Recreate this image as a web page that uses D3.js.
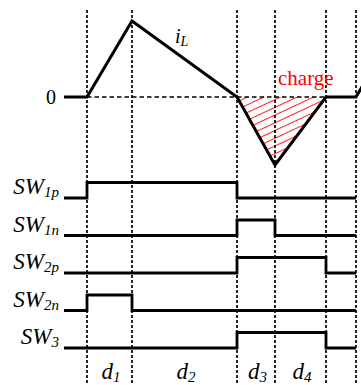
<!DOCTYPE html>
<html>
<head>
<meta charset="utf-8">
<script src="https://cdn.jsdelivr.net/npm/d3@7"></script>
</head>
<body style="margin:0">
<script>
// Phase boundaries on the time axis (start, end of d1, d2, d3, d4, idle)
const phaseEdges = [-0.23, 0, 0.45, 1.5, 1.88, 2.39, 2.69];
const phaseNames = ["d1", "d2", "d3", "d4"];

// Inductor current waveform, (time, current) in normalised units
const iLTime  = [-0.23, 0, 0.45, 1.5, 1.88, 2.39, 2.69, 3.14];
const iLValue = [0, 0, 1, 0, -0.895, 0, 0, 1];

// Switch states per phase: [idle, d1, d2, d3, d4, idle]
const switchNames = ["SW", "SW", "SW", "SW", "SW"];
const switchSubs  = ["1p", "1n", "2p", "2n", "3"];
const switchStates = [
  [0, 1, 1, 0, 0, 0],
  [0, 0, 0, 1, 0, 0],
  [0, 0, 0, 1, 1, 0],
  [0, 1, 0, 0, 0, 0],
  [0, 0, 0, 1, 1, 0]
];

const W = 361, H = 385;
const svg = d3.select("body").append("svg")
  .attr("width", W).attr("height", H)
  .style("display", "block");
svg.append("rect").attr("width", W).attr("height", H).attr("fill", "#fff");

const x = d3.scaleLinear().domain([-0.23, 2.69]).range([64, 356]);
const yI = d3.scaleLinear().domain([0, 1]).range([97, 21]);
const rowLow = d3.scaleLinear().domain([0, 4]).range([198, 348]);
const swAmp = 15.5;

// Serif text helper
const label = (sel) => sel.append("text").attr("font-family", "Liberation Serif");

// Hatch pattern for the charge area
const defs = svg.append("defs");
const pat = defs.append("pattern")
  .attr("id", "hatch")
  .attr("patternUnits", "userSpaceOnUse")
  .attr("width", 7).attr("height", 7)
  .attr("patternTransform", "rotate(-25)");
pat.append("line")
  .attr("x1", 0).attr("x2", 7).attr("y1", 3.5).attr("y2", 3.5)
  .attr("stroke", "#ff2020").attr("stroke-width", 1);

// Negative-current region (d3 + d4)
const negIdx = [3, 4, 5];
const area = d3.area()
  .x(i => x(iLTime[i]))
  .y0(yI(0))
  .y1(i => yI(iLValue[i]));
svg.append("path")
  .attr("d", area(negIdx))
  .attr("fill", "url(#hatch)");

// Vertical phase markers
svg.append("g").selectAll("line")
  .data(phaseEdges.slice(1))
  .join("line")
  .attr("x1", d => x(d)).attr("x2", d => x(d))
  .attr("y1", 10).attr("y2", H)
  .attr("stroke", "#000").attr("stroke-width", 1.7)
  .attr("stroke-dasharray", "3,2");

// Zero reference (dashed) across the switching interval
svg.append("line")
  .attr("x1", x(0)).attr("x2", x(2.39))
  .attr("y1", yI(0)).attr("y2", yI(0))
  .attr("stroke", "#000").attr("stroke-width", 1.6)
  .attr("stroke-dasharray", "4.5,3");

// Inductor current
const iLine = d3.line()
  .x(i => x(iLTime[i]))
  .y(i => yI(iLValue[i]));
svg.append("path")
  .attr("d", iLine(d3.range(iLTime.length)))
  .attr("fill", "none").attr("stroke", "#000")
  .attr("stroke-width", 3).attr("stroke-linejoin", "miter");

// Labels for the current plot
label(svg).attr("x", 51).attr("y", 104)
  .attr("text-anchor", "middle").attr("font-size", 20).text("0");

const iLab = label(svg).attr("x", 175).attr("y", 43)
  .attr("font-size", 20).attr("font-style", "italic");
iLab.append("tspan").text("i");
iLab.append("tspan").attr("font-size", 14).attr("dy", 3).text("L");

label(svg).attr("x", 278).attr("y", 85)
  .attr("font-size", 21).attr("fill", "#ff0000").text("charge");

// Switch gate signals
const swLine = d3.line().curve(d3.curveStepAfter);
switchStates.forEach((states, r) => {
  const low = rowLow(r);
  const pts = states.map((s, k) => [x(phaseEdges[k]), low - s * swAmp]);
  pts.push([x(phaseEdges[phaseEdges.length - 1]), low - states[states.length - 1] * swAmp]);
  svg.append("path")
    .attr("d", swLine(pts))
    .attr("fill", "none").attr("stroke", "#000")
    .attr("stroke-width", 2.8).attr("stroke-linejoin", "miter");

  const t = label(svg)
    .attr("x", 59).attr("y", low - 4)
    .attr("text-anchor", "end")
    .attr("font-size", 23).attr("font-style", "italic");
  t.append("tspan").text(switchNames[r]);
  t.append("tspan").attr("font-size", 15).attr("dy", 3).text(switchSubs[r]);
});

// Phase duration labels
phaseNames.forEach((n, k) => {
  const cx = (x(phaseEdges[k + 1]) + x(phaseEdges[k + 2])) / 2 + 1.5;
  const t = label(svg)
    .attr("x", cx).attr("y", 379)
    .attr("text-anchor", "middle")
    .attr("font-size", 23).attr("font-style", "italic");
  t.append("tspan").text(n[0]);
  t.append("tspan").attr("font-size", 15).attr("dy", 3).text(n.slice(1));
});
</script>
</body>
</html>
